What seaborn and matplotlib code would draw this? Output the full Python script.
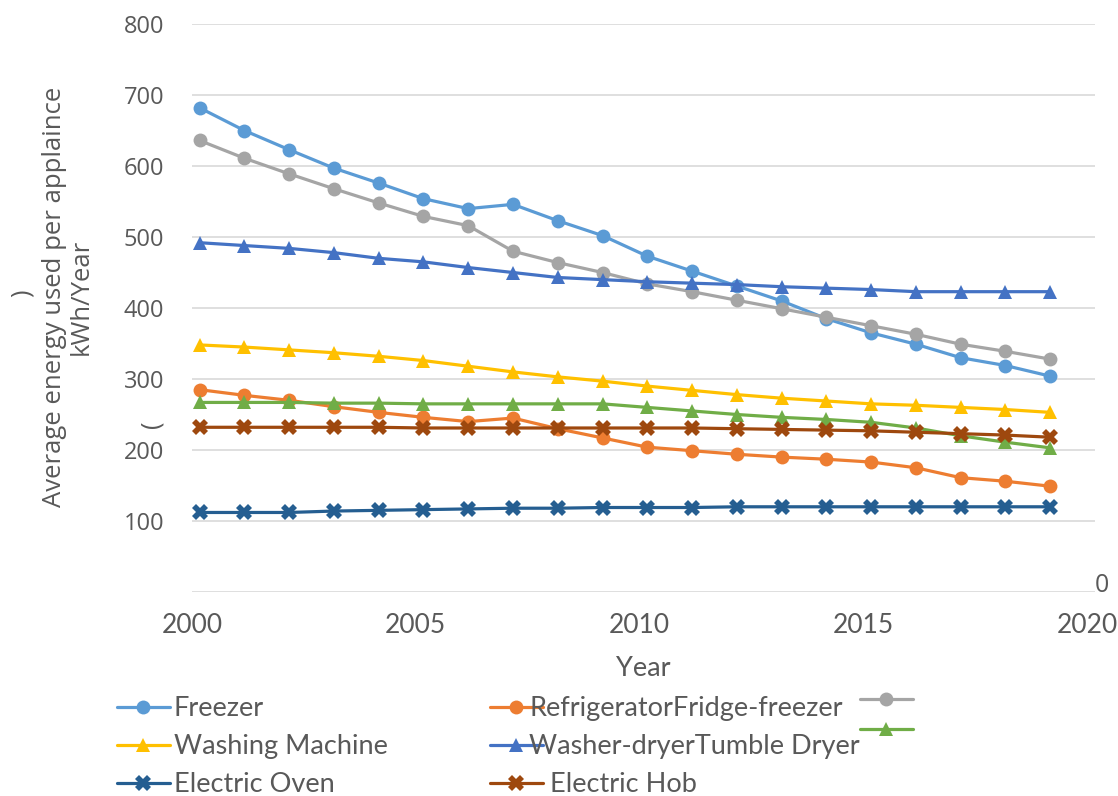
import pandas as pd
import seaborn as sns
import matplotlib.pyplot as plt
from matplotlib import font_manager
from matplotlib.lines import Line2D

# data
years = list(range(2000, 2020))
freezer = [682, 650, 623, 597, 576, 554, 540, 546, 523, 502, 473, 452, 431, 410, 385, 365, 349, 330, 319, 304]
refrigerator = [285, 277, 270, 261, 253, 246, 240, 245, 230, 217, 204, 199, 194, 190, 187, 183, 175, 161, 156, 149]
fridge_freezer = [636, 611, 589, 568, 548, 529, 516, 480, 464, 450, 434, 423, 411, 399, 387, 375, 363, 349, 339, 328]
washing_machine = [348, 345, 341, 337, 332, 326, 318, 310, 303, 297, 290, 284, 278, 273, 269, 265, 263, 260, 257, 253]
washer_dryer = [492, 488, 484, 478, 470, 465, 457, 450, 443, 440, 437, 435, 433, 430, 428, 426, 423, 423, 423, 423]
tumble_dryer = [267, 267, 267, 266, 266, 265, 265, 265, 265, 265, 260, 255, 250, 246, 243, 239, 231, 220, 211, 203]
electric_oven = [112, 112, 112, 114, 115, 116, 117, 118, 118, 119, 119, 119, 120, 120, 120, 120, 120, 120, 120, 120]
electric_hob = [232, 232, 232, 232, 232, 231, 231, 231, 231, 231, 231, 231, 230, 229, 228, 227, 225, 223, 221, 218]

series = ['Freezer', 'Refrigerator', 'Fridge-freezer', 'Washing Machine',
          'Washer-dryer', 'Tumble Dryer', 'Electric Oven', 'Electric Hob']
values = [freezer, refrigerator, fridge_freezer, washing_machine,
          washer_dryer, tumble_dryer, electric_oven, electric_hob]
colors = ['#5B9BD5', '#ED7D31', '#A5A5A5', '#FFC000',
          '#4472C4', '#70AD47', '#255E91', '#9E480E']
markers = ['o', 'o', 'o', '^', '^', '^', 'X', 'X']
yticks = [100, 200, 300, 400, 500, 600, 700, 800]
xticks = [2000, 2005, 2010, 2015, 2020]

df = pd.DataFrame({'Year': years})
for name, vals in zip(series, values):
    df[name] = vals
df = df.melt(id_vars='Year', var_name='series', value_name='kwh')

sns.set_style('white')
installed = {f.name for f in font_manager.fontManager.ttflist}
narrow = 'Liberation Sans Narrow' if 'Liberation Sans Narrow' in installed else 'Lato'
plt.rcParams['font.family'] = ['Open Sans', 'DejaVu Sans']
txt = '#595959'

fig, ax = plt.subplots(figsize=(11.18, 7.96), dpi=100)
fig.subplots_adjust(left=0.1717, right=0.9794, top=0.9698, bottom=0.2563)

msize = {'o': 10, '^': 10, 'X': 12}
for name, c, m in zip(series, colors, markers):
    sns.lineplot(data=df[df['series'] == name], x='Year', y='kwh', color=c,
                 marker=m, markersize=msize[m], markeredgewidth=0, linewidth=2.3,
                 ax=ax, legend=False)

ax.set_xlim(2000, 2020)
ax.set_ylim(0, 800)
ax.set_yticks([0] + yticks)
ax.set_yticklabels([''] + [str(v) for v in yticks])
# year labels sit a few pixels left of their positions in the original
ax.set_xticks([x - 0.17 for x in xticks])
ax.set_xticklabels([str(v) for v in xticks], fontfamily=narrow, fontsize=19)
ax.grid(axis='y', color='#D9D9D9', linewidth=1.2)
ax.grid(axis='x', visible=False)
for s in ax.spines.values():
    s.set_visible(False)
ax.tick_params(axis='y', length=0, pad=20, labelsize=17, labelcolor=txt)
ax.tick_params(axis='x', length=0, pad=15, labelcolor=txt)
ax.set_xlabel('Year', fontfamily=narrow, fontsize=19.5, color=txt, labelpad=13)
ax.set_ylabel('')

# stray "0" label that sits at the right end of the axis
ax.text(2020, 0, '0', fontsize=18, color=txt, ha='left', va='baseline')

# y axis title with the broken brackets
fig.text(68 / 1118, 1 - 297 / 796, 'Average energy used per applaince\nkWh/Year',
         rotation=90, ha='center', va='center', multialignment='center',
         fontsize=18.5, color=txt, linespacing=1.1)
fig.text(22 / 1118, 1 - 293 / 796, ')', rotation=90, ha='center', va='center',
         fontsize=18, color=txt)
fig.text(152 / 1118, 1 - 424 / 796, '(', rotation=90, ha='center', va='center',
         fontsize=18, color=txt)


def handle(i):
    m = markers[i]
    return Line2D([], [], color=colors[i], marker=m, markersize=msize[m],
                  markeredgewidth=0, linewidth=2.3)


leg_kw = dict(frameon=False, borderpad=0, borderaxespad=0, handlelength=1.95,
              labelcolor=txt, prop={'family': narrow, 'size': 19.5}, loc='upper left')
fig.legend([handle(0), handle(3), handle(6)],
           ['Freezer', 'Washing Machine', 'Electric Oven'],
           bbox_to_anchor=(117 / 1118, 1 - 696 / 796), handletextpad=0.15,
           labelspacing=0.48, **leg_kw)
fig.legend([handle(1), handle(4), handle(7)],
           ['RefrigeratorFridge-freezer', 'Washer-dryerTumble Dryer', '   Electric Hob'],
           bbox_to_anchor=(490 / 1118, 1 - 696 / 796), handletextpad=-0.5,
           labelspacing=0.48, **leg_kw)
fig.legend([handle(2), handle(5)], ['', ''],
           bbox_to_anchor=(860 / 1118, 1 - 688 / 796), handletextpad=0.2,
           labelspacing=0.22, **leg_kw)

fig.savefig('out.png', dpi=100)
